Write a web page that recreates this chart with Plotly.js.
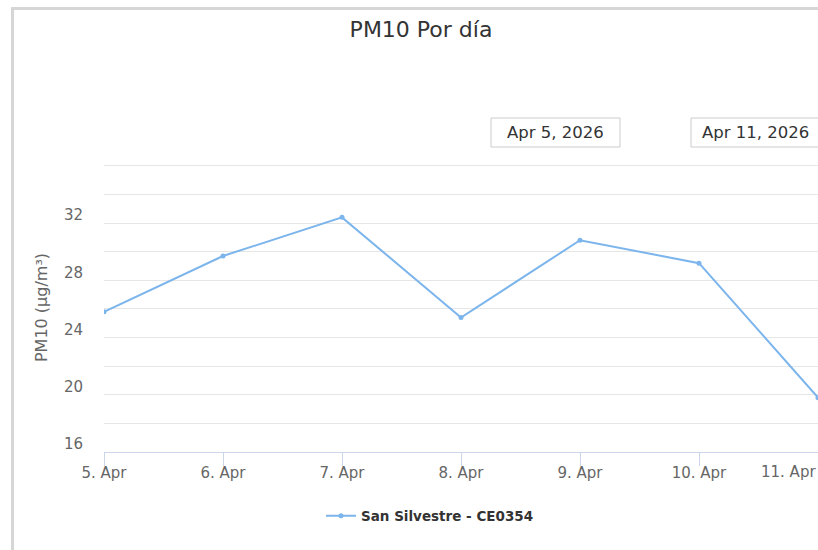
<!DOCTYPE html>
<html>
<head>
<meta charset="utf-8">
<script src="https://cdn.plot.ly/plotly-3.0.1.min.js"></script>
<style>html,body{margin:0;padding:0;background:#fff;}#chart{width:818px;height:550px;}</style>
</head>
<body>
<div id="chart"></div>
<script>
// Data
const dates = ["2026-04-05", "2026-04-06", "2026-04-07", "2026-04-08", "2026-04-09", "2026-04-10", "2026-04-11"];
const pm10 = [25.8, 29.7, 32.4, 25.4, 30.8, 29.2, 19.8];
const xTickLabels = ["5. Apr", "6. Apr", "7. Apr", "8. Apr", "9. Apr", "10. Apr", "11. Apr"];
const seriesName = "San Silvestre - CE0354";
const chartTitle = "PM10 Por día";
const yTitle = "PM10 (µg/m³)";
const yTickVals = [16, 20, 24, 28, 32];
const yMinorVals = [18, 22, 26, 30, 34, 36];
const rangeFrom = "Apr 5, 2026";
const rangeTo = "Apr 11, 2026";

// Layout helpers (pixel -> paper)
const W = 818, H = 550;
const mL = 104, mR = 0, mT = 163, mB = 98;
const pw = W - mL - mR, ph = H - mT - mB;
const px = x => (x - mL) / pw;
const py = y => (H - mB - y) / ph;

const font = "DejaVu Sans, Verdana, sans-serif";
const tickFont = {family: font, size: 15, color: "#666666"};

const trace = {
  x: dates,
  y: pm10,
  type: "scatter",
  mode: "lines+markers",
  name: seriesName,
  line: {color: "#7cb5ec", width: 2},
  marker: {color: "#7cb5ec", size: 5},
  hoverinfo: "x+y"
};

const boxes = [
  {x0: 491, x1: 620, text: rangeFrom},
  {x0: 691, x1: 820, text: rangeTo}
];

const shapes = [
  // frame
  {type: "line", xref: "paper", yref: "paper", x0: px(12.5), x1: px(12.5), y0: py(7), y1: py(560), line: {color: "#d6d6d6", width: 3}},
  {type: "line", xref: "paper", yref: "paper", x0: px(11), x1: px(830), y0: py(8.5), y1: py(8.5), line: {color: "#d6d6d6", width: 3}}
];
const annotations = [];
boxes.forEach(b => {
  shapes.push({type: "rect", xref: "paper", yref: "paper", x0: px(b.x0), x1: px(b.x1), y0: py(118), y1: py(147),
    line: {color: "#cccccc", width: 1}, fillcolor: "rgba(0,0,0,0)"});
  annotations.push({xref: "paper", yref: "paper", x: px((b.x0 + b.x1) / 2), y: py(132.5), xanchor: "center", yanchor: "middle",
    text: b.text, showarrow: false, font: {family: font, size: 16.5, color: "#333333"}});
});

// last tick label kept inside the chart edge (as the original library does)
const lastIdx = dates.length - 1;
annotations.push({xref: "x", yref: "paper", x: dates[lastIdx], y: py(472), xanchor: "right", yanchor: "middle",
  text: xTickLabels[lastIdx], showarrow: false, font: tickFont});

const layout = {
  width: W, height: H,
  margin: {l: mL, r: mR, t: mT, b: mB, pad: 0},
  paper_bgcolor: "#ffffff",
  plot_bgcolor: "#ffffff",
  title: {text: chartTitle, xref: "container", yref: "container", x: 421 / W, xanchor: "center", y: 1 - 29 / H, yanchor: "middle",
    font: {family: font, size: 22, color: "#333333"}},
  xaxis: {
    type: "date",
    range: ["2026-04-05", "2026-04-11"],
    tickmode: "array",
    tickvals: dates,
    ticktext: xTickLabels.map((t, i) => i === lastIdx ? "" : t),
    showgrid: false,
    zeroline: false,
    showline: true,
    linecolor: "#ccd6eb",
    linewidth: 1,
    ticks: "outside",
    ticklen: 13,
    tickcolor: "#ccd6eb",
    tickfont: tickFont,
    ticklabelstandoff: -6,
    automargin: false,
    fixedrange: true
  },
  yaxis: {
    range: [16, 36.2],
    tickmode: "array",
    tickvals: yTickVals,
    showgrid: true,
    gridcolor: "#e6e6e6",
    gridwidth: 1,
    zeroline: false,
    showline: false,
    ticks: "",
    tickfont: tickFont,
    ticklabelshift: -8,
    ticklabelstandoff: 20,
    minor: {tickmode: "array", tickvals: yMinorVals, showgrid: true, gridcolor: "#e6e6e6", gridwidth: 1, ticks: ""},
    title: {text: yTitle, font: {family: font, size: 16, color: "#666666"}, standoff: 12},
    automargin: false,
    fixedrange: true
  },
  showlegend: true,
  legend: {
    orientation: "h",
    x: 430 / W, xref: "container", xanchor: "center",
    y: 1 - 516 / H, yref: "container", yanchor: "middle",
    font: {family: font, size: 13.5, color: "#333333", weight: "bold"},
    bgcolor: "rgba(0,0,0,0)",
    itemwidth: 30
  },
  shapes: shapes,
  annotations: annotations
};

Plotly.newPlot("chart", [trace], layout, {displayModeBar: false, staticPlot: true});
</script>
</body>
</html>
